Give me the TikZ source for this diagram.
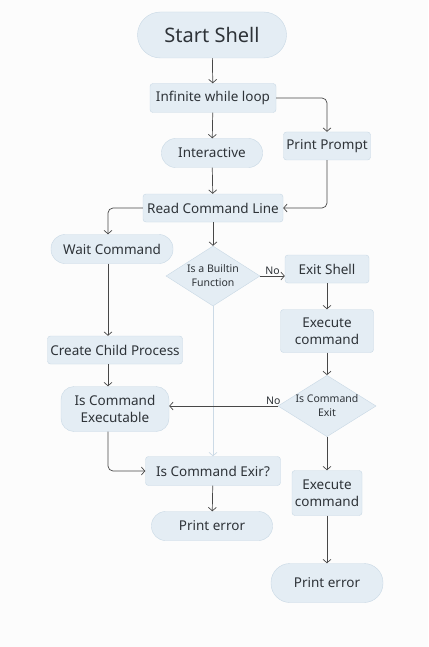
\documentclass[tikz,border=0pt]{standalone}
\usepackage{fontspec}
\setmainfont{Noto Sans}
\usetikzlibrary{shapes.geometric,arrows.meta}
\definecolor{boxfill}{HTML}{E4EDF4}
\definecolor{boxline}{HTML}{C8D8E5}
\definecolor{linecol}{HTML}{474747}
\definecolor{faintcol}{HTML}{CCDAE6}
\definecolor{textcol}{HTML}{2E3338}
\tikzset{
  box/.style={draw=boxline, fill=boxfill, rounded corners=3pt, text=textcol, inner sep=0pt, align=center, font=\fontsize{13.5}{17}\selectfont},
  pill/.style={box, rounded corners=14pt},
  dia/.style={diamond, draw=boxline, fill=boxfill, text=textcol, inner sep=0pt, align=center, aspect=1.6, font=\fontsize{10.5}{14}\selectfont},
  arr/.style={draw=linecol, -{Straight Barb[length=3.5pt,width=8pt]}, line width=0.7pt},
  lbl/.style={text=textcol, font=\fontsize{10.5}{12}\selectfont, inner sep=1.5pt}
}
\begin{document}
\begin{tikzpicture}[x=1pt, y=-1pt]
  \fill[white!99!black] (0,0) rectangle (428,647);
  \useasboundingbox (0,0) rectangle (428,647);
  \coordinate (c) at (108,0);

  \node (1) [pill, rounded corners=23pt, minimum width=149pt, minimum height=46pt, font=\fontsize{20}{24}\selectfont] at (212,35) {Start Shell};
  \node (2) [box, minimum width=126pt, minimum height=29pt] at (213,98) {Infinite while loop};
  \node (3) [pill, minimum width=101pt, minimum height=29pt] at (212,153) {Interactive};
  \node (4) [box, minimum width=87pt, minimum height=28pt] at (327,146) {Print Prompt};
  \node (5) [box, minimum width=140pt, minimum height=28pt] at (213,208) {Read Command Line};
  \node (6) [pill, minimum width=122pt, minimum height=29pt] at (112,249) {Wait Command};
  \node (7) [dia, minimum width=94pt, minimum height=60pt] at (213,276) {Is a Builtin\\Function};
  \node (8) [box, minimum width=84pt, minimum height=28pt] at (327,269) {Exit Shell};
  \node (9) [box, minimum width=93pt, minimum height=43pt] at (327,331) {Execute\\command};
  \node (10) [box, minimum width=135pt, minimum height=28pt] at (115,350) {Create Child Process};
  \node (11) [box, rounded corners=13pt, minimum width=108pt, minimum height=45pt] at (115,409) {Is Command\\Executable};
  \node (12) [dia, minimum width=96pt, minimum height=60pt] at (327,406) {Is Command\\Exit};
  \node (13) [box, minimum width=135pt, minimum height=29pt] at (213,471) {Is Command Exir?};
  \node (14) [pill, minimum width=121pt, minimum height=29pt] at (212,526) {Print error};
  \node (15) [box, minimum width=70pt, minimum height=45pt] at (327,493) {Execute\\command};
  \node (16) [pill, rounded corners=19pt, minimum width=112pt, minimum height=39pt] at (327,583) {Print error};

  \draw[arr] (1) -- (2);
  \draw[arr] (2) -- (3);
  \draw[arr, rounded corners=5pt] (2.east) -| (4.north);
  \draw[arr] (3) -- (5);
  \draw[arr, rounded corners=5pt] (4.south) |- (5.east);
  \draw[arr, rounded corners=5pt] (5.west) -| (6.north -| c);
  \draw[arr] (5) -- (7);
  \draw[arr] (7.east) -- (7.east -| 8.west) node[lbl, midway, above] {No};
  \draw[arr, draw=faintcol] (7.south) -- (13.north);
  \draw[arr] (6.south -| c) -- (10.north -| c);
  \draw[arr] (10.south -| c) -- (11.north -| c);
  \draw[arr] (8) -- (9);
  \draw[arr] (9) -- (12);
  \draw[arr] (12.west) -- (12.west -| 11.east) node[lbl, pos=0.04, above] {No};
  \draw[arr] (12) -- (15);
  \draw[arr, rounded corners=5pt] (11.south -| c) |- (13.west);
  \draw[arr] (13) -- (14);
  \draw[arr] (15) -- (16);
\end{tikzpicture}
\end{document}
